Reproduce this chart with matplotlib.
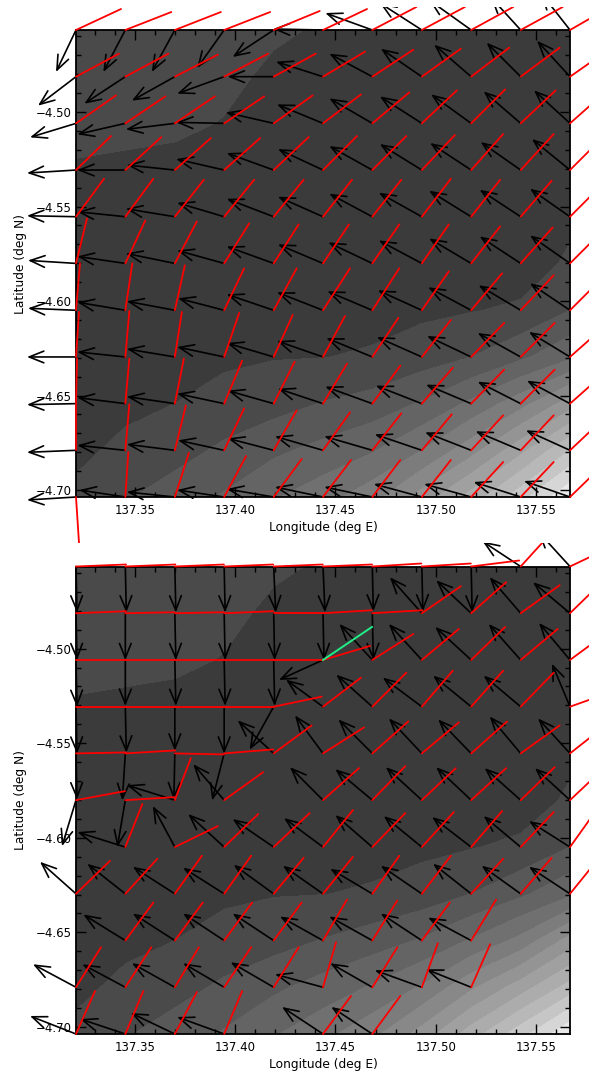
import numpy as np
import matplotlib
matplotlib.use("Agg")
import matplotlib.pyplot as plt
from matplotlib.ticker import MultipleLocator
from matplotlib.transforms import Bbox, TransformedBbox

N = np.nan

lons = [137.3206, 137.3452, 137.3699, 137.3945, 137.4192, 137.4438, 137.4684, 137.4931, 137.5177, 137.5424, 137.5670]
lats = [-4.4566, -4.4813, -4.5060, -4.5307, -4.5554, -4.5801, -4.6049, -4.6296, -4.6543, -4.6790, -4.7037]

# background field, one band per unit
top_field = [
    [1.8, 1.8, 1.7, 1.6, 1.3, 0.8, 0.5, 0.4, 0.4, 0.4, 0.4],
    [1.7, 1.7, 1.6, 1.5, 0.6, 0.4, 0.3, 0.3, 0.3, 0.3, 0.3],
    [1.6, 1.6, 1.4, 0.9, 0.5, 0.4, 0.3, 0.3, 0.3, 0.3, 0.3],
    [0.8, 0.55, 0.4, 0.35, 0.3, 0.3, 0.3, 0.3, 0.3, 0.3, 0.3],
    [0.3, 0.3, 0.3, 0.3, 0.3, 0.3, 0.3, 0.3, 0.3, 0.4, 0.8],
    [0.3, 0.3, 0.3, 0.3, 0.3, 0.3, 0.3, 0.3, 0.3, 0.5, 1.15],
    [0.3, 0.3, 0.3, 0.4, 0.5, 0.6, 0.7, 0.8, 0.95, 1.15, 2.0],
    [0.4, 0.5, 0.6, 0.85, 0.95, 0.98, 1.1, 1.5, 2.0, 2.8, 3.8],
    [0.6, 0.8, 1.0, 1.3, 1.6, 2.05, 2.4, 3.1, 4.2, 5.6, 7.5],
    [0.8, 1.2, 1.6, 2.2, 2.8, 3.3, 3.9, 5.0, 6.6, 8.7, 11.0],
    [1.2, 1.9, 2.5, 3.1, 3.9, 4.6, 5.6, 7.4, 9.4, 11.6, 13.9],
]
bot_field = [
    [1.8, 1.8, 1.7, 1.6, 1.3, 0.8, 0.5, 0.4, 0.4, 0.4, 0.4],
    [1.7, 1.7, 1.6, 1.5, 0.6, 0.4, 0.3, 0.3, 0.3, 0.3, 0.3],
    [1.6, 1.6, 1.4, 0.9, 0.5, 0.4, 0.3, 0.3, 0.3, 0.3, 0.3],
    [0.8, 0.55, 0.4, 0.35, 0.3, 0.3, 0.3, 0.3, 0.3, 0.3, 0.3],
    [0.3, 0.3, 0.3, 0.3, 0.3, 0.3, 0.3, 0.3, 0.3, 0.4, 0.8],
    [0.3, 0.3, 0.3, 0.3, 0.3, 0.3, 0.3, 0.3, 0.3, 0.5, 1.15],
    [0.3, 0.3, 0.3, 0.4, 0.5, 0.6, 0.7, 0.8, 0.95, 1.2, 2.0],
    [0.4, 0.5, 0.6, 0.85, 0.95, 0.98, 1.1, 1.4, 2.0, 2.8, 3.8],
    [0.6, 0.8, 1.0, 1.3, 1.6, 2.05, 2.5, 3.1, 4.1, 5.3, 7.4],
    [0.8, 1.2, 1.6, 2.2, 2.8, 3.4, 4.1, 5.1, 6.8, 8.5, 10.4],
    [1.2, 1.9, 2.5, 3.1, 3.9, 4.7, 5.7, 7.4, 9.5, 11.6, 13.9],
]

band_colors = ["#3b3b3b", "#4a4a4a", "#585858", "#646464", "#707070", "#7c7c7c", "#888888",
               "#949494", "#a0a0a0", "#acacac", "#b8b8b8", "#c6c6c6", "#d6d6d6", "#e8e8e8"]

# black arrows, top panel
top_black_u = [
    [-20, -22, -23, -27, -41, -50, -47, -42, -42, -30, -29],
    [-38, -41, -43, -47, -46, -47, -43, -41, -37, -34, -33],
    [-46, -48, -49, -48, -48, -46, -43, -42, -40, -37, -36],
    [-49, -48, -48, -48, -47, -45, -43, -42, -41, -40, -38],
    [-49, -48, -49, -47, -47, -45, -43, -43, -42, -41, -40],
    [-48, -48, -49, -47, -47, -45, -44, -43, -42, -41, -40],
    [-48, -48, -48, -46, -47, -46, -45, -44, -43, -42, -40],
    [-49, -48, -48, -47, -47, -46, -46, -45, -44, -43, -41],
    [-49, -48, -48, -47, -46, -45, -47, -46, -45, -43, -43],
    [-49, -48, -48, -46, -46, -48, -48, -47, -46, -45, -44],
    [-49, -46, -48, -47, -47, -48, -48, -48, -47, -47, -46],
]
top_black_v = [
    [-42, -42, -42, -38, -27, 1, 17, 27, 30, 33, 37],
    [-29, -27, -24, -17, 0, 15, 23, 28, 32, 34, 36],
    [-14, -11, -6, 1, 11, 19, 25, 27, 29, 32, 33],
    [-3, 0, 5, 11, 17, 21, 24, 26, 27, 28, 31],
    [1, 5, 8, 14, 18, 20, 23, 24, 26, 27, 28],
    [3, 7, 10, 13, 17, 19, 21, 23, 25, 27, 28],
    [2, 8, 9, 12, 16, 18, 19, 20, 23, 25, 27],
    [0, 5, 8, 10, 14, 16, 19, 20, 21, 24, 25],
    [-1, 6, 7, 10, 13, 15, 17, 18, 19, 22, 23],
    [-2, 5, 6, 10, 12, 14, 14, 16, 18, 19, 20],
    [-3, 7, 5, 7, 8, 10, 10, 13, 13, 15, 16],
]

# red lines, top panel
top_red_u = [
    [45, 46, 46, 46, 46, 44, 44, 43, 42, 42, 40],
    [43, 43, 43, 44, 42, 42, 41, 39, 38, 39, 40],
    [40, 40, 40, 40, 39, 38, 37, 35, 34, 35, 36],
    [35, 36, 36, 36, 35, 34, 34, 33, 32, 33, 34],
    [28, 28, 29, 30, 30, 29, 29, 29, 29, 31, 34],
    [11, 20, 22, 25, 25, 26, 27, 27, 29, 32, 34],
    [4, 7, 10, 20, 23, 27, 27, 27, 31, 33, 34],
    [3, 4, 7, 15, 19, 22, 26, 29, 33, 34, 35],
    [1, 4, 9, 18, 21, 24, 28, 31, 33, 34, 35],
    [0, 4, 11, 20, 23, 27, 29, 30, 32, 33, 35],
    [3, 3, 14, 22, 28, 28, 28, 29, 32, 33, 34],
]
top_red_v = [
    [21, 18, 18, 18, 19, 21, 23, 23, 23, 23, 23],
    [23, 23, 22, 23, 23, 25, 27, 28, 29, 29, 28],
    [28, 27, 27, 27, 28, 29, 31, 33, 34, 33, 32],
    [34, 33, 32, 32, 33, 34, 34, 35, 36, 36, 34],
    [38, 38, 37, 37, 37, 37, 37, 38, 37, 36, 34],
    [45, 43, 42, 40, 39, 39, 39, 39, 37, 36, 34],
    [47, 47, 45, 42, 42, 42, 42, 39, 37, 35, 34],
    [45, 46, 45, 44, 42, 41, 39, 37, 34, 34, 31],
    [45, 45, 45, 43, 42, 40, 38, 36, 34, 34, 31],
    [46, 46, 45, 42, 40, 38, 37, 36, 35, 35, 33],
    [-46, 45, 44, 41, 38, 37, 37, 37, 35, 35, 33],
]

# black arrows, bottom panel
bot_black_u = [
    [1, 1, 1, 1, 2, 2, 1, 1, 1, -38, -32],
    [1, 0, 1, 1, 1, 1, 1, -32, -35, -31, -37],
    [1, 0, 1, 1, 1, -44, -33, -33, -36, -32, -31],
    [1, 1, 0, 0, -24, -37, -36, -39, -38, -37, -18],
    [1, -3, -1, -12, -36, -28, -34, -33, -33, -31, -32],
    [-14, -8, -48, -31, N, -33, -37, -36, -35, -36, -35],
    [N, -48, -22, -36, -41, -39, -37, -38, -39, -37, -41],
    [-36, -38, -42, -41, -40, -40, -42, -41, -38, -39, -41],
    [N, -42, -42, -41, -41, -43, -43, -41, -43, N, N],
    [-43, -43, -43, -41, -43, -48, -42, -47, -45, N, N],
    [-46, -45, -44, -47, N, -41, -41, N, N, N, N],
]
bot_black_v = [
    [-46, -46, -46, -46, -46, -46, -45, -45, -46, 25, 35],
    [-47, -47, -47, -47, -47, -47, -47, 36, 33, 36, 31],
    [-47, -46, -46, -46, -46, -20, 36, 36, 33, 36, 37],
    [-47, -46, -44, -47, -43, 27, 32, 29, 31, 31, 43],
    [-46, -47, -46, -47, 33, 38, 34, 35, 34, 37, 35],
    [-46, -47, 15, 36, N, 33, 31, 33, 33, 32, 32],
    [N, 15, 41, 33, 28, 29, 32, 31, 30, 31, 26],
    [32, 30, 27, 26, 29, 28, 25, 28, 30, 28, 27],
    [N, 26, 27, 27, 27, 24, 24, 27, 23, N, N],
    [23, 23, 24, 24, 25, 13, 24, 17, 18, N, N],
    [18, 15, 21, 17, N, 27, 27, N, N, N, N],
]

# red lines, bottom panel
bot_red_u = [
    [50, 50, 49, 49, 49, 49, 49, 49, 48, 30, 42],
    [50, 49, 49, 49, 49, 49, 50, 39, 35, 39, 36],
    [50, 50, 49, 50, 49, 47, 41, 37, 34, 37, 38],
    [50, 50, 49, 50, 48, 38, 34, 31, 32, 33, 45],
    [50, 50, 49, 49, 38, 41, 36, 37, 36, 39, 38],
    [49, 49, 16, 39, N, 36, 33, 34, 35, 34, 36],
    [N, 17, 43, 34, 36, 30, 33, 32, 31, 33, 30],
    [34, 32, 27, 27, 30, 30, 27, 29, 32, 31, 30],
    [N, 28, 28, 28, 28, 24, 25, 28, 25, N, N],
    [25, 26, 24, 27, 25, 13, 25, 16, 19, N, N],
    [19, 18, 22, 18, N, 28, 28, N, N, N, N],
]
bot_red_v = [
    [2, 2, 2, 2, 2, 2, 3, 3, 6, 33, 20],
    [2, 1, 1, 2, 0, 3, 3, 27, 31, 28, 35],
    [0, 0, 0, 0, 0, 14, 26, 31, 33, 31, 28],
    [0, 0, 0, 0, 10, 29, 34, 36, 36, 34, 16],
    [1, 3, -1, 4, 28, 26, 32, 31, 32, 28, 30],
    [9, 3, 42, 28, N, 32, 34, 32, 32, 33, 34],
    [N, 43, 21, 33, 34, 37, 34, 35, 36, 35, 42],
    [33, 35, 38, 38, 36, 37, 38, 38, 35, 36, 37],
    [N, 38, 38, 38, 38, 41, 40, 38, 41, N, N],
    [40, 40, 40, 40, 40, 45, 40, 44, 43, N, N],
    [43, 43, 42, 43, N, 38, 38, N, N, N, N],
]

# the one highlighted vector in the bottom panel
green_col = 5
green_row = 2
green_u = 49
green_v = 33

# vector units to degrees
lon_unit = 0.000499
lat_unit = 0.000529


def draw_panel(ax, field, black_u, black_v, red_u, red_v, clip):
    levels = list(range(0, len(band_colors) + 1))
    ax.contourf(lons, lats, field, levels=levels, colors=band_colors, zorder=1)

    for r, lat in enumerate(lats):
        for c, lon in enumerate(lons):
            bu, bv = black_u[r][c], black_v[r][c]
            if not np.isnan(bu):
                ann = ax.annotate("", xy=(lon + bu * lon_unit, lat + bv * lat_unit), xytext=(lon, lat),
                                  annotation_clip=False, zorder=3,
                                  arrowprops=dict(arrowstyle="->,head_length=10.5,head_width=4.2", mutation_scale=1,
                                                  shrinkA=0, shrinkB=0, lw=1.2, color="black"))
                ann.arrow_patch.set_clip_box(clip)
            ru, rv = red_u[r][c], red_v[r][c]
            if not np.isnan(ru):
                ln, = ax.plot([lon, lon + ru * lon_unit], [lat, lat + rv * lat_unit], color="red", lw=1.3,
                              zorder=4, solid_capstyle="round")
                ln.set_clip_box(clip)
                ln.set_clip_path(None)

    ax.set_xlim(lons[0], lons[-1])
    ax.set_ylim(lats[-1], lats[0])
    ax.xaxis.set_major_locator(MultipleLocator(0.05))
    ax.xaxis.set_minor_locator(MultipleLocator(0.01))
    ax.yaxis.set_major_locator(MultipleLocator(0.05))
    ax.yaxis.set_minor_locator(MultipleLocator(0.01))
    ax.ticklabel_format(useOffset=False)
    ax.tick_params(which="major", direction="in", top=True, right=True, length=7, width=1.0, labelsize=8.5)
    ax.tick_params(which="minor", direction="in", top=True, right=True, length=3.5, width=1.0)
    ax.tick_params(axis="x", pad=5)
    ax.tick_params(axis="y", pad=3)
    ax.set_xlabel("Longitude (deg E)", fontsize=8.8, labelpad=3)
    ax.set_ylabel("Latitude (deg N)", fontsize=8.8, labelpad=6)
    for s in ax.spines.values():
        s.set_linewidth(1.3)


W, H = 589, 1074
fig = plt.figure(figsize=(W / 100, H / 100), dpi=100)
fig.patch.set_facecolor("white")

ax1 = fig.add_axes([76 / W, 1 - 497 / H, 494 / W, 467 / H])
ax2 = fig.add_axes([76 / W, 1 - 1034 / H, 494 / W, 467.5 / H])

clip1 = TransformedBbox(Bbox([[0, 1 - 543 / H], [1, 1 - 7 / H]]), fig.transFigure)
clip2 = TransformedBbox(Bbox([[0, 0], [1, 1 - 543 / H]]), fig.transFigure)

draw_panel(ax1, top_field, top_black_u, top_black_v, top_red_u, top_red_v, clip1)
draw_panel(ax2, bot_field, bot_black_u, bot_black_v, bot_red_u, bot_red_v, clip2)

gx, gy = lons[green_col], lats[green_row]
ax2.plot([gx, gx + green_u * lon_unit], [gy, gy + green_v * lat_unit], color="#22ee88", lw=1.4, zorder=5)

fig.savefig("out.png", dpi=100)
